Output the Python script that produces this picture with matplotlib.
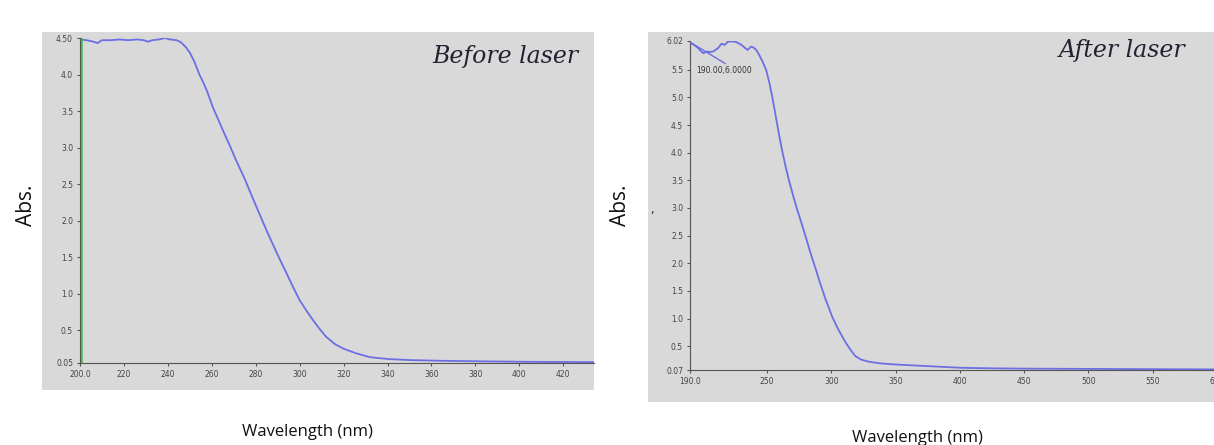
import matplotlib
matplotlib.use("Agg")
import matplotlib.pyplot as plt
from matplotlib.patches import Rectangle

# Before laser spectrum (nm, Abs.)
wl_before = [200, 203, 206, 208, 210, 214, 218, 222, 226, 229, 231, 233, 236, 238.6, 241,
             244, 246, 248, 250, 252, 254.5, 256, 258, 260.5, 263, 265, 268, 271, 275,
             278.6, 282, 285, 290, 294, 297, 300, 303, 306, 309, 312, 316, 320, 326,
             332, 340, 350, 365, 385, 405, 435]
abs_before = [4.48, 4.47, 4.45, 4.43, 4.47, 4.47, 4.48, 4.47, 4.48, 4.47, 4.45, 4.47, 4.48, 4.50, 4.48,
              4.47, 4.44, 4.38, 4.30, 4.18, 3.99, 3.90, 3.76, 3.55, 3.38, 3.24, 3.04, 2.83, 2.57,
              2.31, 2.07, 1.86, 1.53, 1.28, 1.09, 0.91, 0.77, 0.64, 0.52, 0.41, 0.31, 0.245, 0.18,
              0.13, 0.105, 0.09, 0.08, 0.072, 0.066, 0.062]

# After laser spectrum (nm, Abs.)
wl_after = [190, 193, 196, 198, 200.3, 202.9, 205, 208, 211.8, 214.5, 217, 219.6, 222, 224.7,
            227, 230, 232.5, 234.8, 237.6, 239.5, 241.5, 244, 246.4, 249.2, 251.8, 254.4, 257,
            259.5, 262, 264.7, 267, 269.8, 273, 277.5, 281.4, 284.5, 287.9, 290.4, 295, 300.5,
            305, 311, 315, 318.7, 323, 329, 338, 349.6, 362, 375, 400.8, 425, 450, 500, 550, 610]
abs_after = [5.99, 5.95, 5.90, 5.85, 5.80, 5.83, 5.82, 5.83, 5.89, 5.97, 5.95, 6.01, 6.01, 6.01,
             5.99, 5.95, 5.90, 5.86, 5.92, 5.90, 5.86, 5.76, 5.65, 5.50, 5.26, 4.96, 4.62,
             4.30, 4.00, 3.72, 3.50, 3.26, 3.00, 2.67, 2.37, 2.13, 1.89, 1.70, 1.38, 1.04,
             0.82, 0.57, 0.43, 0.32, 0.26, 0.22, 0.19, 0.17, 0.155, 0.14, 0.11, 0.10, 0.095, 0.09, 0.085, 0.08]

xt_before = [200, 220, 240, 260, 280, 300, 320, 340, 360, 380, 400, 420]
xl_before = ["200.0", "220", "240", "260", "280", "300", "320", "340", "360", "380", "400", "420"]
yt_before = [0.05, 0.5, 1.0, 1.5, 2.0, 2.5, 3.0, 3.5, 4.0, 4.5]
yl_before = ["0.05", "0.5", "1.0", "1.5", "2.0", "2.5", "3.0", "3.5", "4.0", "4.50"]

xt_after = [190, 250, 300, 350, 400, 450, 500, 550, 600]
xl_after = ["190.0", "250", "300", "350", "400", "450", "500", "550", "600"]
yt_after = [0.07, 0.5, 1.0, 1.5, 2.0, 2.5, 3.0, 3.5, 4.0, 4.5, 5.0, 5.5, 6.02]
yl_after = ["0.07", "0.5", "1.0", "1.5", "2.0", "2.5", "3.0", "3.5", "4.0", "4.5", "5.0", "5.5", "6.02"]

W, H = 1214, 445
fig = plt.figure(figsize=(W / 100, H / 100), dpi=100)
fig.patch.set_facecolor("white")


def box(x0, y0, x1, y1):
    # pixel box (top-left origin) -> figure fraction rect
    return [x0 / W, 1 - y1 / H, (x1 - x0) / W, (y1 - y0) / H]


bg = "#d9d9d9"
line_c = "#6c6fe2"

# gray panels behind each plot
for x0, y0, x1, y1 in [(42, 32, 594, 390), (648, 32, 1214, 402)]:
    r = box(x0, y0, x1, y1)
    fig.patches.append(Rectangle((r[0], r[1]), r[2], r[3], transform=fig.transFigure,
                                 facecolor=bg, edgecolor="none", zorder=-5))


def style(ax, xt, xl, yt, yl):
    ax.set_facecolor(bg)
    ax.set_zorder(2)
    for s in ["top", "right"]:
        ax.spines[s].set_visible(False)
    ax.spines["left"].set_color("#555555")
    ax.spines["bottom"].set_color("#555555")
    ax.set_xticks(xt)
    ax.set_xticklabels(xl)
    ax.set_yticks(yt)
    ax.set_yticklabels(yl)
    ax.tick_params(labelsize=5.5, labelcolor="#444444", colors="#555555",
                   length=2, width=0.8, pad=3)


ax1 = fig.add_axes(box(80, 38, 594, 363))
ax1.plot(wl_before, abs_before, color=line_c, lw=1.3)
ax1.axvline(200.6, color="#3cc34a", lw=1.8)
ax1.set_xlim(200, 434)
ax1.set_ylim(0.05, 4.5)
style(ax1, xt_before, xl_before, yt_before, yl_before)
ax1.text(578 / W, 1 - 57 / H, "Before laser", transform=fig.transFigure, ha="right", va="center",
         fontsize=17, style="italic", family="DejaVu Serif", color="#222233")

ax2 = fig.add_axes(box(690, 41, 1217, 370))
ax2.plot(wl_after, abs_after, color=line_c, lw=1.3)
ax2.axvline(190.3, color="#c8559a", lw=1.5)
ax2.set_xlim(190, 600)
ax2.set_ylim(0.07, 6.02)
style(ax2, xt_after, xl_after, yt_after, yl_after)
ax2.annotate("190.00,6.0000", xy=(190, 6.0), xytext=(195, 5.48), fontsize=5.5,
             color="#333333", va="center",
             arrowprops=dict(arrowstyle="-", color=line_c, lw=1, shrinkA=0, shrinkB=0,
                             relpos=(0.6, 1.0)))
ax2.text(1185 / W, 1 - 50 / H, "After laser", transform=fig.transFigure, ha="right", va="center",
         fontsize=17, style="italic", family="DejaVu Serif", color="#222233")

# axis titles
lab = dict(family="Open Sans", color="#111111")
fig.text(27 / W, 1 - 205 / H, "Abs.", rotation=90, ha="center", va="center", fontsize=15, **lab)
fig.text(620 / W, 1 - 205 / H, "Abs.", rotation=90, ha="center", va="center", fontsize=15, **lab)
fig.text(652 / W, 1 - 210 / H, ",", ha="center", va="center", fontsize=8, color="#111111")
fig.text(307 / W, 1 - 432 / H, "Wavelength (nm)", ha="center", va="center", fontsize=12, **lab)
fig.text(917 / W, 1 - 438 / H, "Wavelength (nm)", ha="center", va="center", fontsize=12, **lab)

fig.savefig("out.png", dpi=100)
